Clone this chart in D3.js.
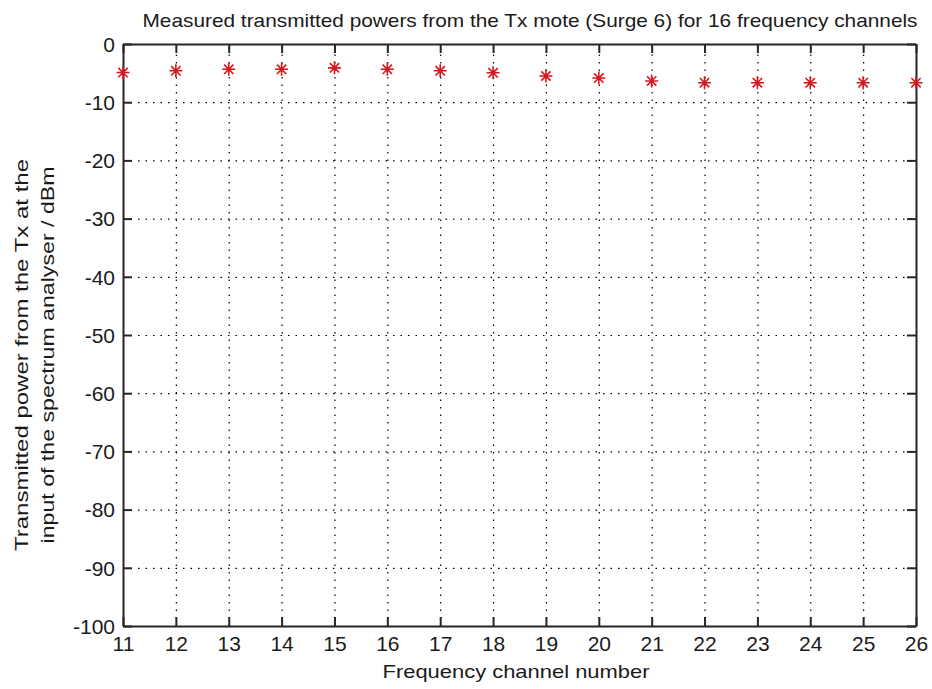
<!DOCTYPE html>
<html>
<head>
<meta charset="utf-8">
<script src="https://cdn.jsdelivr.net/npm/d3@7"></script>
<style>
  html, body { margin: 0; padding: 0; background: #fff; }
  svg { display: block; }
  text { font-family: "Liberation Sans", Arial, sans-serif; fill: #1a1a1a; }
</style>
</head>
<body>
<svg id="chart" width="932" height="689"></svg>
<script>
// ---- data ----
const channels = [11, 12, 13, 14, 15, 16, 17, 18, 19, 20, 21, 22, 23, 24, 25, 26];
const powerDbm = [-4.9, -4.6, -4.35, -4.35, -4.1, -4.35, -4.6, -4.95, -5.5, -5.85, -6.35, -6.65, -6.65, -6.65, -6.65, -6.65];
const xTicks = [11, 12, 13, 14, 15, 16, 17, 18, 19, 20, 21, 22, 23, 24, 25, 26];
const yTicks = [0, -10, -20, -30, -40, -50, -60, -70, -80, -90, -100];
const titleText = "Measured transmitted powers from the Tx mote (Surge 6) for 16 frequency channels";
const xLabelText = "Frequency channel number";
const yLabelLines = ["Transmitted power from the Tx at the", "input of the spectrum analyser / dBm"];

// ---- layout ----
const svg = d3.select("#chart");
const L = 123, R = 916, T = 44, B = 626;
const W = R - L, H = B - T;

const x = d3.scaleLinear().domain([11, 26]).range([L, R]);
const y = d3.scaleLinear().domain([-100, 0]).range([B, T]);

// grid
const gridX = svg.append("g").attr("transform", `translate(0,${B})`)
  .call(d3.axisBottom(x).tickValues(xTicks.slice(1, -1)).tickSize(-H).tickFormat(""));
gridX.select(".domain").remove();
gridX.selectAll("line").attr("stroke", "#000").attr("stroke-width", 1.2).attr("stroke-dasharray", "1.5,6");

const gridY = svg.append("g").attr("transform", `translate(${L},0)`)
  .call(d3.axisLeft(y).tickValues(yTicks.slice(1, -1)).tickSize(-W).tickFormat(""));
gridY.select(".domain").remove();
gridY.selectAll("line").attr("stroke", "#000").attr("stroke-width", 1.2).attr("stroke-dasharray", "1.5,6");

// axes (box with inward ticks)
const axisColor = "#262626";
const tk = 9;
const fmt = d => String(d);
function styleAxis(g) {
  g.select(".domain").attr("stroke", axisColor).attr("stroke-width", 2);
  g.selectAll(".tick line").attr("stroke", axisColor).attr("stroke-width", 2);
  g.selectAll(".tick text").style("font-size", "21px").attr("fill", "#1a1a1a");
}
const xAxisB = svg.append("g").attr("transform", `translate(0,${B})`)
  .call(d3.axisBottom(x).tickValues(xTicks).tickSizeInner(-tk).tickSizeOuter(0).tickPadding(10).tickFormat(fmt));
styleAxis(xAxisB);
const xAxisT = svg.append("g").attr("transform", `translate(0,${T})`)
  .call(d3.axisTop(x).tickValues(xTicks).tickSizeInner(-tk).tickSizeOuter(0).tickFormat(""));
styleAxis(xAxisT);
const yAxisL = svg.append("g").attr("transform", `translate(${L},0)`)
  .call(d3.axisLeft(y).tickValues(yTicks).tickSizeInner(-tk).tickSizeOuter(0).tickPadding(8).tickFormat(fmt));
styleAxis(yAxisL);
yAxisL.selectAll(".tick text").attr("dy", "0.35em");
const yAxisR = svg.append("g").attr("transform", `translate(${R},0)`)
  .call(d3.axisRight(y).tickValues(yTicks).tickSizeInner(-tk).tickSizeOuter(0).tickFormat(""));
styleAxis(yAxisR);

// markers: MATLAB-like '*' (plus + cross)
const asterisk = {
  draw(ctx, size) {
    const r = Math.sqrt(size) / 2;
    const d = r * 0.72;
    ctx.moveTo(-r, 0); ctx.lineTo(r, 0);
    ctx.moveTo(0, -r); ctx.lineTo(0, r);
    ctx.moveTo(-d, -d); ctx.lineTo(d, d);
    ctx.moveTo(-d, d); ctx.lineTo(d, -d);
  }
};
const sym = d3.symbol().type(asterisk).size(169);
svg.append("g").selectAll("path")
  .data(channels.map((c, i) => ({ c, v: powerDbm[i] })))
  .join("path")
  .attr("transform", d => `translate(${x(d.c)},${y(d.v)})`)
  .attr("d", sym)
  .attr("fill", "none")
  .attr("stroke", "#d8161b")
  .attr("stroke-width", 1.6);

// title
svg.append("text")
  .attr("x", 530).attr("y", 27)
  .attr("text-anchor", "middle")
  .attr("textLength", 775).attr("lengthAdjust", "spacingAndGlyphs")
  .style("font-size", "19px")
  .text(titleText);

// x label
svg.append("text")
  .attr("x", 516).attr("y", 678)
  .attr("text-anchor", "middle")
  .attr("textLength", 267).attr("lengthAdjust", "spacingAndGlyphs")
  .style("font-size", "19px")
  .text(xLabelText);

// y label (two lines)
const yl = [{ t: yLabelLines[0], bx: 28, len: 392 }, { t: yLabelLines[1], bx: 54, len: 377 }];
svg.append("g").selectAll("text")
  .data(yl)
  .join("text")
  .attr("transform", d => `translate(${d.bx},355) rotate(-90)`)
  .attr("text-anchor", "middle")
  .attr("textLength", d => d.len).attr("lengthAdjust", "spacingAndGlyphs")
  .style("font-size", "19px")
  .text(d => d.t);
</script>
</body>
</html>
